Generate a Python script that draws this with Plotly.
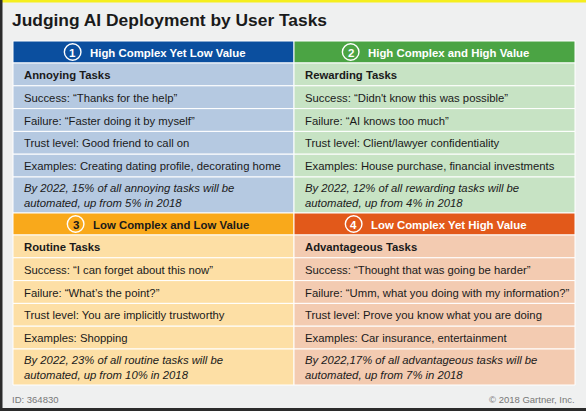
import plotly.graph_objects as go

# chart content
title_text = "Judging AI Deployment by User Tasks"
quadrant_numbers = ["1", "2", "3", "4"]
quadrant_titles = ["High Complex Yet Low Value", "High Complex and High Value",
                   "Low Complex and Low Value", "Low Complex Yet High Value"]
task_types = ["Annoying Tasks", "Rewarding Tasks", "Routine Tasks", "Advantageous Tasks"]
success_quotes = ["“Thanks for the help”", "“Didn't know this was possible”",
                  "“I can forget about this now”", "“Thought that was going be harder”"]
failure_quotes = ["“Faster doing it by myself”", "“AI knows too much”",
                  "“What’s the point?”", "“Umm, what you doing with my information?”"]
trust_levels = ["Good friend to call on", "Client/lawyer confidentiality",
                "You are implicitly trustworthy", "Prove you know what you are doing"]
examples = ["Creating dating profile, decorating home", "House purchase, financial investments",
            "Shopping", "Car insurance, entertainment"]
forecasts = ["By 2022, 15% of all annoying tasks will be<br>automated, up from 5% in 2018",
             "By 2022, 12% of all rewarding tasks will be<br>automated, up from 4% in 2018",
             "By 2022, 23% of all routine tasks will be<br>automated, up from 10% in 2018",
             "By 2022,17% of all advantageous tasks will be<br>automated, up from 7% in 2018"]
doc_id = "ID: 364830"
copyright_text = "© 2018 Gartner, Inc."

# styling
W, H = 586, 411
FONT = "Liberation Sans, Arial, sans-serif"
header_fill = ["#0b4f9f", "#4ba444", "#f9a91b", "#e2591a"]
cell_fill = ["#b5c9e1", "#c7e3c4", "#fddfa5", "#f3cbb1"]
header_text = ["white", "white", "#1a1a1a", "white"]
text_col = "#1a1a1a"
col_edges = [13, 294, 575]
half_tops = [41, 213]
row_heights = [22, 22.8, 22.8, 22.8, 22.8, 22.8, 36]

fig = go.Figure()
fig.add_trace(go.Scatter(x=[0], y=[0], mode="markers", marker_opacity=0,
                         hoverinfo="skip", showlegend=False))

shapes = []
annotations = []

for q in range(4):
    col, half = q % 2, q // 2
    x0, x1 = col_edges[col], col_edges[col + 1]
    row_texts = [
        (task_types[q], "bold"),
        ("Success: " + success_quotes[q], "normal"),
        ("Failure: " + failure_quotes[q], "normal"),
        ("Trust level: " + trust_levels[q], "normal"),
        ("Examples: " + examples[q], "normal"),
        (forecasts[q], "italic"),
    ]
    y = half_tops[half]
    for i, h in enumerate(row_heights):
        fill = header_fill[q] if i == 0 else cell_fill[q]
        shapes.append(dict(type="rect", xref="x", yref="y", x0=x0, x1=x1, y0=y, y1=y + h,
                           fillcolor=fill, line=dict(color="white", width=1), layer="below"))
        yc = y + h / 2
        if i == 0:
            # header: outlined number circle + title, centred as a group
            tw = 5.95 * len(quadrant_titles[q])
            group = 16 + 7 + tw
            start = (x0 + x1) / 2 - group / 2
            cx = start + 8
            shapes.append(dict(type="circle", xref="x", yref="y", x0=cx - 8.3, x1=cx + 8.3,
                               y0=yc - 8.3, y1=yc + 8.3, line=dict(color="white", width=1.4)))
            annotations.append(dict(x=cx, y=yc + 0.5, xref="x", yref="y", text="<b>%s</b>" % quadrant_numbers[q],
                                    showarrow=False, xanchor="center", yanchor="middle",
                                    font=dict(family=FONT, size=11.5, color=header_text[q])))
            annotations.append(dict(x=start + 23, y=yc + 0.5, xref="x", yref="y",
                                    text="<b>%s</b>" % quadrant_titles[q],
                                    showarrow=False, xanchor="left", yanchor="middle",
                                    font=dict(family=FONT, size=11.4, color=header_text[q])))
        else:
            txt, style = row_texts[i - 1]
            if style == "bold":
                txt = "<b>%s</b>" % txt
            elif style == "italic":
                txt = "<i>%s</i>" % txt
            annotations.append(dict(x=x0 + 9, y=yc + 0.5, xref="x", yref="y", text=txt,
                                    showarrow=False, xanchor="left", yanchor="middle", align="left",
                                    font=dict(family=FONT, size=11.3, color=text_col)))
        y += h

# page frame: yellow top strip, dark left and bottom edges
shapes.append(dict(type="rect", xref="x", yref="y", x0=0, x1=W, y0=0, y1=2.5,
                   fillcolor="#f5ee1e", line_width=0))
shapes.append(dict(type="rect", xref="x", yref="y", x0=0, x1=2.5, y0=0, y1=H,
                   fillcolor="#2b2b2b", line_width=0))
shapes.append(dict(type="rect", xref="x", yref="y", x0=0, x1=W, y0=H - 3, y1=H,
                   fillcolor="#2b2b2b", line_width=0))

annotations.append(dict(x=10, y=20, xref="x", yref="y", text="<b>%s</b>" % title_text,
                        showarrow=False, xanchor="left", yanchor="middle",
                        font=dict(family=FONT, size=17.4, color="#1a1a1a")))
annotations.append(dict(x=10, y=399, xref="x", yref="y", text=doc_id,
                        showarrow=False, xanchor="left", yanchor="middle",
                        font=dict(family=FONT, size=9.5, color="#777777")))
annotations.append(dict(x=577, y=399, xref="x", yref="y", text=copyright_text,
                        showarrow=False, xanchor="right", yanchor="middle",
                        font=dict(family=FONT, size=9.5, color="#777777")))

fig.update_layout(
    width=W, height=H,
    margin=dict(l=0, r=0, t=0, b=0),
    paper_bgcolor="#eff0f0", plot_bgcolor="#eff0f0",
    xaxis=dict(range=[0, W], visible=False, fixedrange=True),
    yaxis=dict(range=[H, 0], visible=False, fixedrange=True),
    shapes=shapes, annotations=annotations,
    showlegend=False,
)

# drop the browser's default body margin so the figure fills the window
fig.write_html("out.html", config={"displayModeBar": False},
               post_script="document.body.style.margin='0px';document.body.style.overflow='hidden';")
